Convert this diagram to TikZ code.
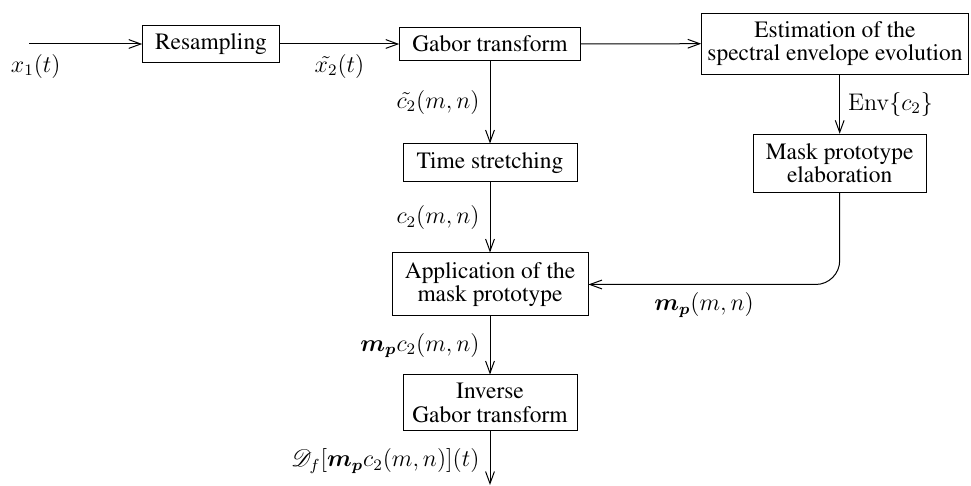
\documentclass[tikz,border=0pt]{standalone}
\usepackage[T1]{fontenc}
\usepackage{times}
\usepackage{amsmath,amssymb,bm}
\usepackage{mathrsfs}
\usetikzlibrary{arrows.meta}
\begin{document}
\begin{tikzpicture}[x=0.5pt,y=-0.5pt,
  every node/.style={font=\rmfamily\fontsize{11.7}{11.6}\selectfont},
  blk/.style={draw, inner sep=0pt, align=center, line width=0.5pt},
  lab/.style={inner sep=0pt},
  conn/.style={-{Straight Barb[length=6pt,width=4.4pt]}, line width=0.5pt}]
\useasboundingbox (0,0) rectangle (971,486);

\node[blk, minimum width=68.3pt, minimum height=18.9pt] (res) at (211,44) {Resampling};
\node[blk, minimum width=90.3pt, minimum height=16.7pt] (gab) at (490,44) {Gabor transform};
\node[blk, minimum width=133.3pt, minimum height=30.4pt] (est) at (835,43.7) {Estimation of the\\spectral envelope evolution};
\node[blk, minimum width=87pt, minimum height=19pt] (ts) at (490,163) {Time stretching};
\node[blk, minimum width=86.4pt, minimum height=29.2pt] (mask) at (839.7,163.5) {Mask prototype\\elaboration};
\node[blk, minimum width=98pt, minimum height=31.5pt] (app) at (490,284.5) {Application of the\\mask prototype};
\node[blk, minimum width=87pt, minimum height=28pt] (inv) at (490,403) {Inverse\\Gabor transform};

\coordinate (in) at (29,44);
\coordinate (out) at (490,485);

\draw[conn] (in) -- node[lab, pos=0.06, below=4.8pt] (lx1) {$x_1(t)$} (res.west);
\draw[conn] (res.east) -- node[lab, midway, below=4.8pt] (lx2) {$\tilde{x_2}(t)$} (gab.west);
\draw[conn] (gab.east) -- (est.west);
\draw[conn] (gab.south) -- node[lab, midway, left=5pt] (lc2t) {$\tilde{c_2}(m,n)$} (ts.north);
\draw[conn] (mask.north |- est.south) -- node[lab, midway, right=4pt] (lenv) {$\mathrm{Env}\{c_2\}$} (mask.north);
\draw[conn] (ts.south) -- node[lab, midway, left=5pt] (lc2) {$c_2(m,n)$} (app.north);
\draw[conn, rounded corners=12pt] (mask.south) |- node[lab, pos=0.77, below=4pt] (lmp) {$\boldsymbol{m_p}(m,n)$} (app.east);
\draw[conn] (app.south) -- node[lab, midway, left=5pt] (lmpc) {$\boldsymbol{m_p}c_2(m,n)$} (inv.north);
\draw[conn] (inv.south) -- node[lab, pos=0.55, left=5pt] (lout) {$\mathscr{D}_f[\boldsymbol{m_p}c_2(m,n)](t)$} (out);
\end{tikzpicture}
\end{document}
